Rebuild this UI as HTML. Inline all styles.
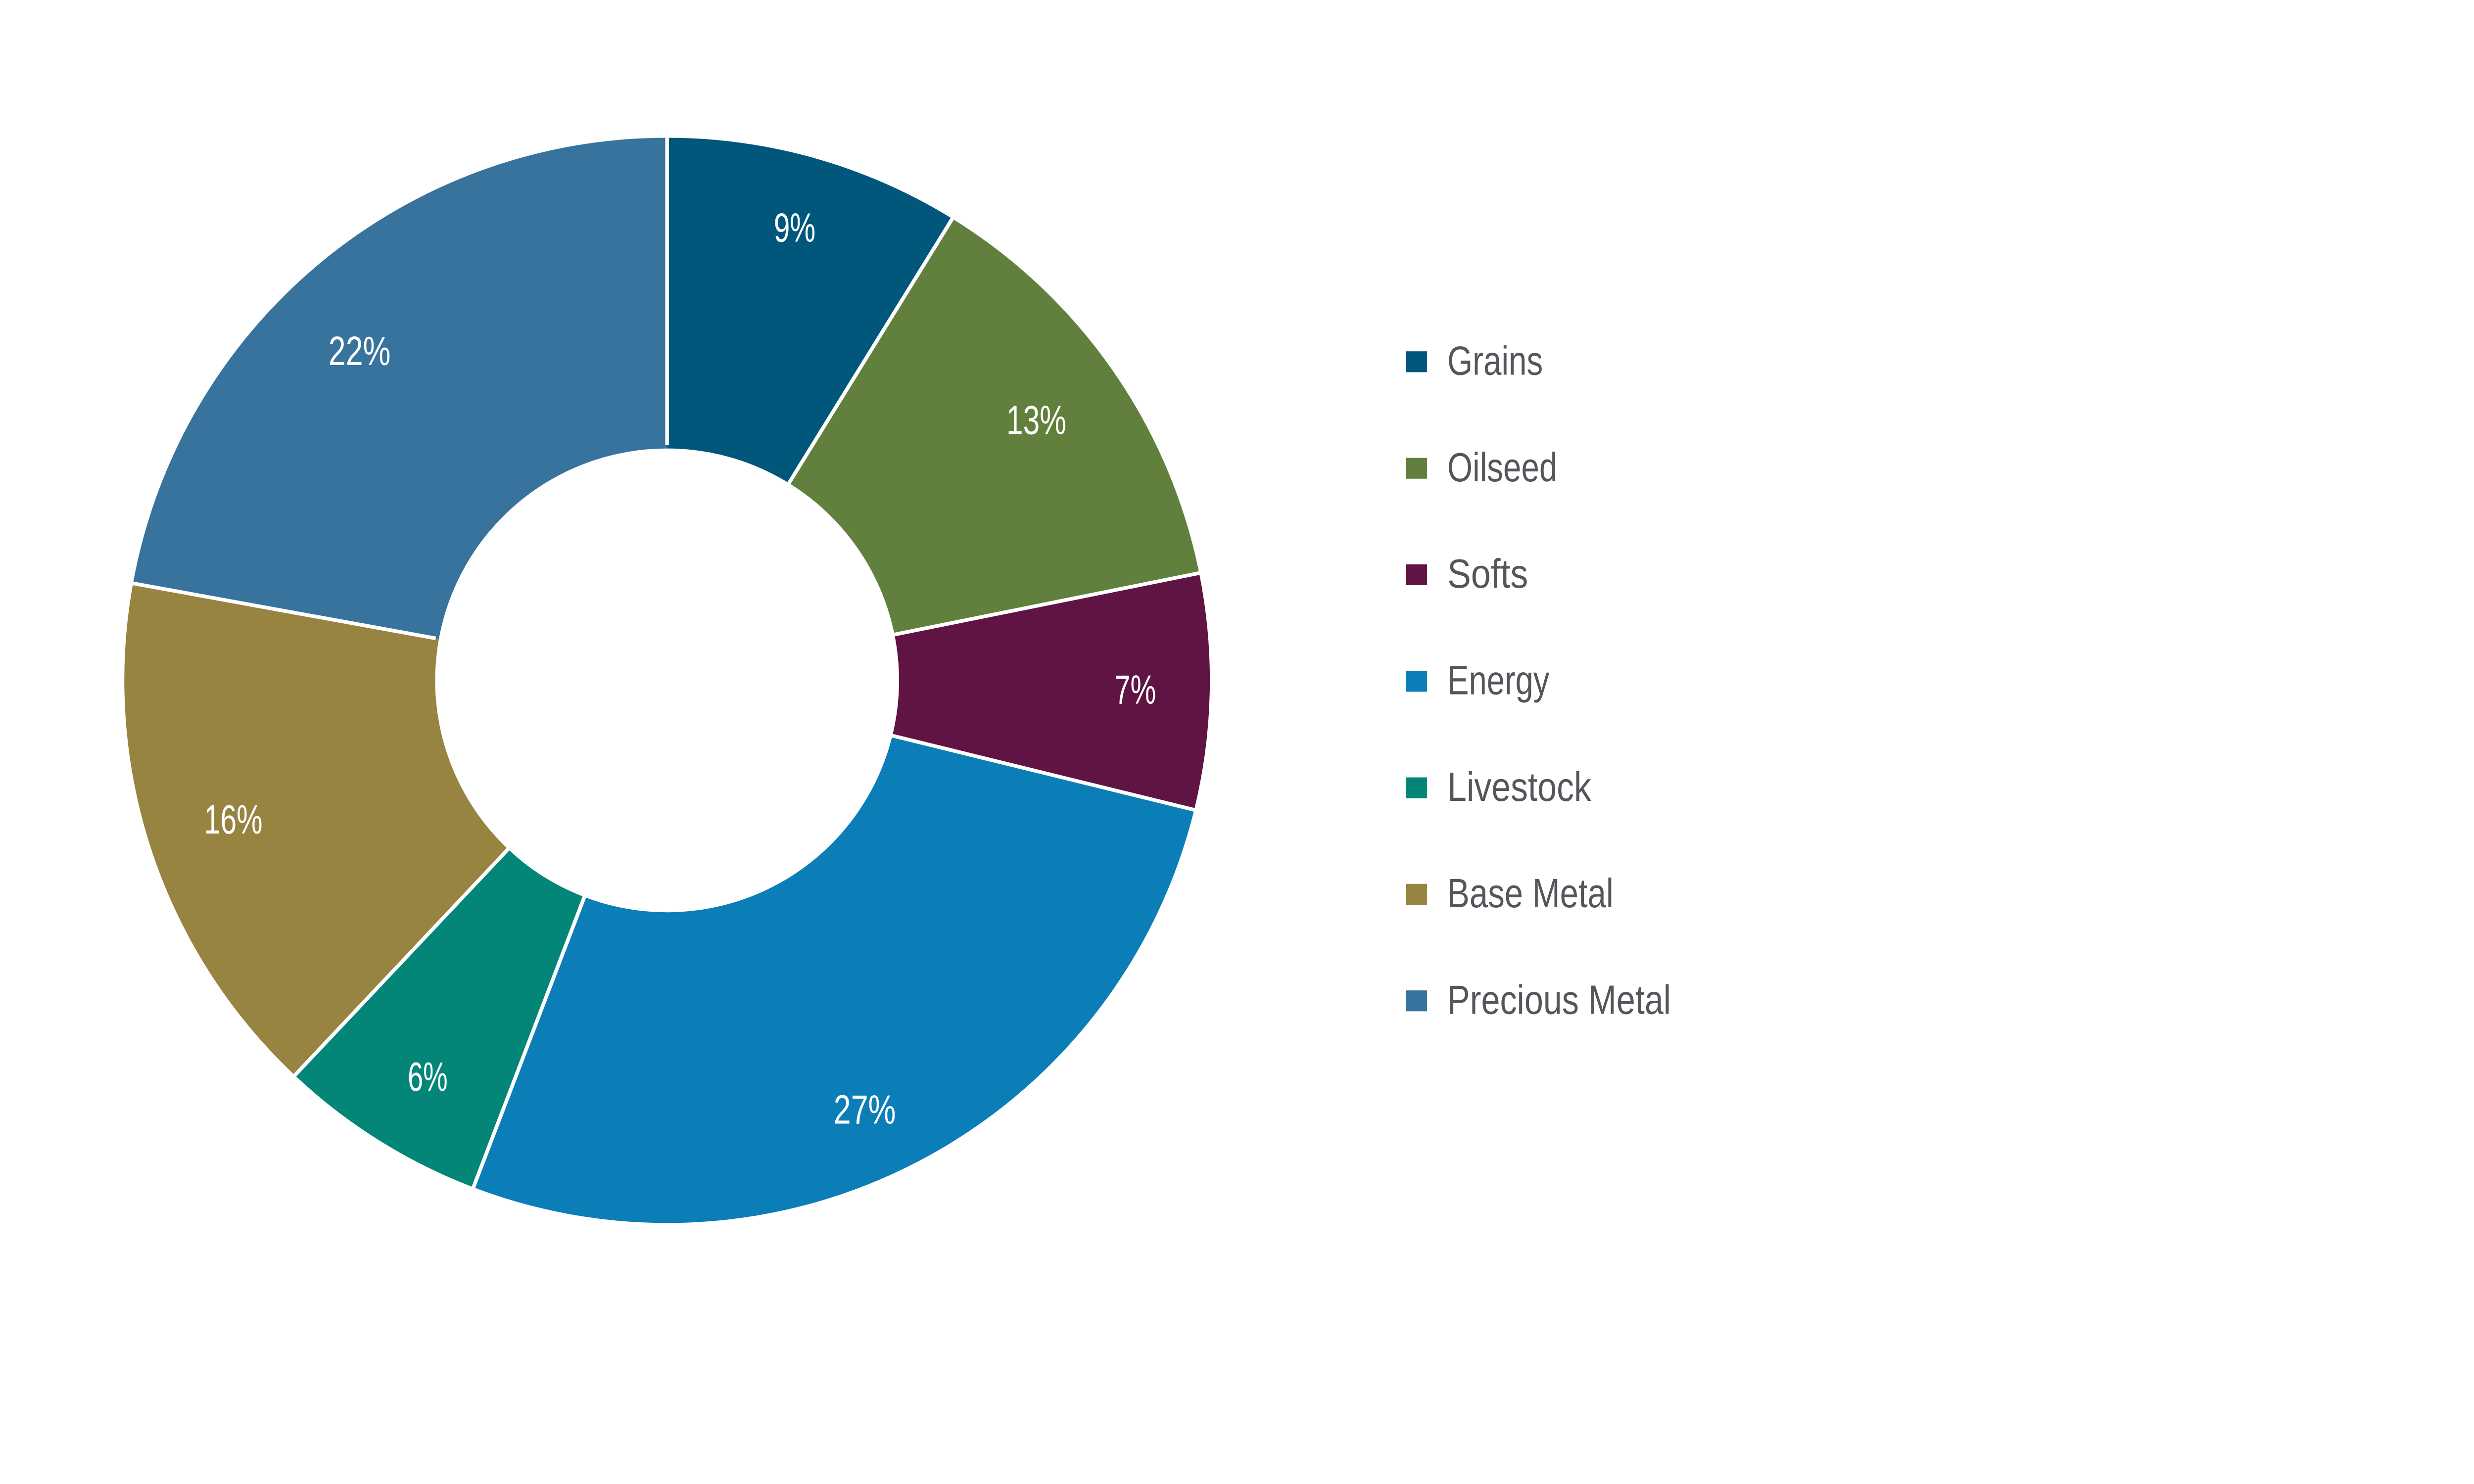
<!DOCTYPE html>
<html>
<head>
<meta charset="utf-8">
<meta name="viewport" content="width=device-width, initial-scale=1">
<style>
  html, body { margin:0; padding:0; background:#ffffff; width:100%; height:100%; overflow:hidden; }
  svg { display:block; position:absolute; left:0; top:0; width:100vw; height:100vh; }
  text { font-family: "Liberation Sans", "DejaVu Sans", sans-serif; }
</style>
</head>
<body>
<svg viewBox="0 0 5333 3000" preserveAspectRatio="xMidYMin meet" xmlns="http://www.w3.org/2000/svg">
  <rect width="5333" height="3000" fill="#ffffff"/>

  <!-- Donut slices: center (1438,1467), R=1170, r=500 -->
  <path d="M1438,297 A1170,1170 0 0 1 2052.8,471.6 L1700.7,1041.6 A500,500 0 0 0 1438,967 Z" fill="#01567c"/>
  <path d="M2052.8,471.6 A1170,1170 0 0 1 2584.9,1235.7 L1928.1,1368.2 A500,500 0 0 0 1700.7,1041.6 Z" fill="#62803d"/>
  <path d="M2584.9,1235.7 A1170,1170 0 0 1 2574.2,1746.1 L1923.6,1586.3 A500,500 0 0 0 1928.1,1368.2 Z" fill="#5f1443"/>
  <path d="M2574.2,1746.1 A1170,1170 0 0 1 1020.6,2560.0 L1259.6,1934.1 A500,500 0 0 0 1923.6,1586.3 Z" fill="#0b7eb8"/>
  <path d="M1020.6,2560.0 A1170,1170 0 0 1 635.6,2318.5 L1095.1,1830.9 A500,500 0 0 0 1259.6,1934.1 Z" fill="#038677"/>
  <path d="M635.6,2318.5 A1170,1170 0 0 1 286.8,1257.8 L946.1,1377.6 A500,500 0 0 0 1095.1,1830.9 Z" fill="#978440"/>
  <path d="M286.8,1257.8 A1170,1170 0 0 1 1438,297 L1438,967 A500,500 0 0 0 946.1,1377.6 Z" fill="#37739c"/>

  <!-- White separators -->
  <g stroke="#ffffff" stroke-width="8" stroke-linecap="butt">
    <line x1="1438" y1="960" x2="1438" y2="290"/>
    <line x1="1697.0" y1="1047.6" x2="2056.5" y2="465.6"/>
    <line x1="1921.2" y1="1369.6" x2="2591.8" y2="1234.3"/>
    <line x1="1916.8" y1="1584.6" x2="2581.0" y2="1747.8"/>
    <line x1="1262.1" y1="1927.6" x2="1018.1" y2="2566.5"/>
    <line x1="1099.9" y1="1826.0" x2="630.8" y2="2323.6"/>
    <line x1="939.2" y1="1376.4" x2="279.9" y2="1256.6"/>
  </g>

  <!-- Slice labels -->
  <g fill="#ffffff" font-size="88" text-anchor="middle">
    <text x="1713" y="521" textLength="90" lengthAdjust="spacingAndGlyphs">9%</text>
    <text x="2234" y="936" textLength="129" lengthAdjust="spacingAndGlyphs">13%</text>
    <text x="2447" y="1517" textLength="90" lengthAdjust="spacingAndGlyphs">7%</text>
    <text x="1864" y="2423" textLength="134" lengthAdjust="spacingAndGlyphs">27%</text>
    <text x="922" y="2352" textLength="86" lengthAdjust="spacingAndGlyphs">6%</text>
    <text x="503" y="1797" textLength="126" lengthAdjust="spacingAndGlyphs">16%</text>
    <text x="775" y="787" textLength="134" lengthAdjust="spacingAndGlyphs">22%</text>
  </g>

  <!-- Legend -->
  <rect x="3031" y="757.5" width="45" height="45" fill="#01567c"/>
  <rect x="3031" y="987.2" width="45" height="45" fill="#62803d"/>
  <rect x="3031" y="1216.8" width="45" height="45" fill="#5f1443"/>
  <rect x="3031" y="1446.5" width="45" height="45" fill="#0b7eb8"/>
  <rect x="3031" y="1676.2" width="45" height="45" fill="#038677"/>
  <rect x="3031" y="1905.8" width="45" height="45" fill="#978440"/>
  <rect x="3031" y="2135.5" width="45" height="45" fill="#37739c"/>

  <g fill="#53565a" font-size="88">
    <text x="3120" y="808" textLength="206" lengthAdjust="spacingAndGlyphs">Grains</text>
    <text x="3120" y="1037.7" textLength="237" lengthAdjust="spacingAndGlyphs">Oilseed</text>
    <text x="3120" y="1267.3" textLength="174" lengthAdjust="spacingAndGlyphs">Softs</text>
    <text x="3120" y="1497" textLength="220" lengthAdjust="spacingAndGlyphs">Energy</text>
    <text x="3120" y="1726.7" textLength="310" lengthAdjust="spacingAndGlyphs">Livestock</text>
    <text x="3120" y="1956.3" textLength="358" lengthAdjust="spacingAndGlyphs">Base Metal</text>
    <text x="3120" y="2186" textLength="482" lengthAdjust="spacingAndGlyphs">Precious Metal</text>
  </g>
</svg>
</body>
</html>
